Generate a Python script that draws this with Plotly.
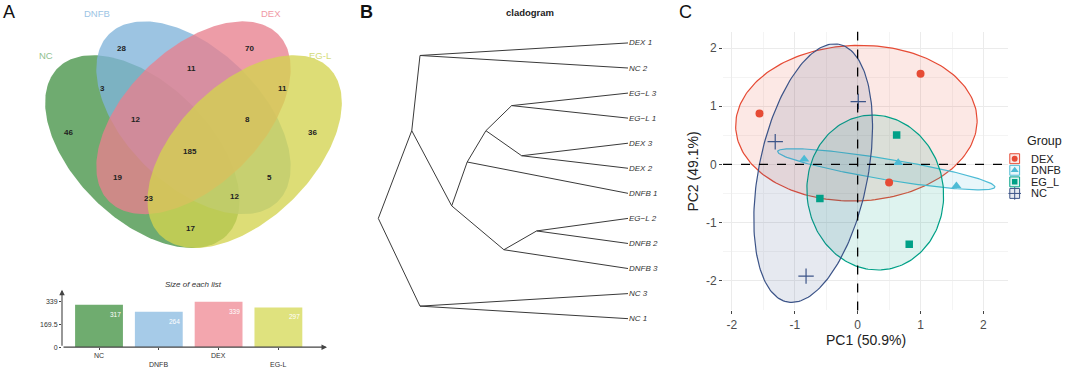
import numpy as np
import plotly.graph_objects as go

W, H = 1080, 370
FONT = "Liberation Sans, Arial, sans-serif"

# ---------------- Panel A data (Venn + list sizes) ----------------
venn_sets = ["NC", "DNFB", "DEX", "EG-L"]
region_members = [("NC",), ("DNFB",), ("DEX",), ("EG-L",),
                  ("NC", "DNFB"), ("DNFB", "DEX"), ("DEX", "EG-L"), ("NC", "EG-L"),
                  ("NC", "DEX"), ("DNFB", "EG-L"),
                  ("NC", "DNFB", "DEX"), ("DNFB", "DEX", "EG-L"), ("NC", "DEX", "EG-L"),
                  ("NC", "DNFB", "EG-L"), ("NC", "DNFB", "DEX", "EG-L")]
region_counts = [46, 28, 70, 36, 3, 11, 11, 17, 19, 5, 12, 8, 23, 12, 185]
list_sizes = [sum(c for m, c in zip(region_members, region_counts) if s in m) for s in venn_sets]
size_ticks = [0, 169.5, 339]
size_title = "Size of each list"

# ---------------- Panel B data (cladogram) ----------------
leaf_labels = ["DEX 1", "NC 2", "EG\u2212L 3", "EG\u2212L 1", "DEX 3", "DEX 2", "DNFB 1",
               "EG\u2212L 2", "DNFB 2", "DNFB 3", "NC 3", "NC 1"]
merge_left = [-1, -3, -5, 2, 4, -8, 6, 5, 1, -11, 9]
merge_right = [-2, -4, -6, 3, -7, -9, -10, 7, 8, -12, 10]
merge_height = [8.33, 4.66, 4.26, 5.69, 6.44, 3.66, 4.97, 7.06, 8.66, 8.33, 10.0]

# ---------------- Panel C data (PCA) ----------------
pca_groups = ["DEX", "DNFB", "EG_L", "NC"]
dex_pc1 = [-1.56, 1.00, 0.50]
dex_pc2 = [0.875, 1.56, -0.31]
dnfb_pc1 = [-0.85, 0.645, 1.57]
dnfb_pc2 = [0.09, 0.03, -0.37]
egl_pc1 = [0.62, -0.60, 0.82]
egl_pc2 = [0.505, -0.585, -1.37]
nc_pc1 = [-1.31, 0.01, -0.82]
nc_pc2 = [0.39, 1.08, -1.92]
pc1_label = "PC1 (50.9%)"
pc2_label = "PC2 (49.1%)"
pca_ticks = [-2, -1, 0, 1, 2]

# ---------------- helpers ----------------
def xdom(p0, p1):
    return [p0 / W, p1 / W]

def ydom(top, bottom):
    return [1 - bottom / H, 1 - top / H]

def paper_text(px, py, text, size, color="#222", angle=0):
    return dict(x=px / W, y=1 - py / H, xref="paper", yref="paper", text=text, showarrow=False,
                xanchor="center", yanchor="middle", textangle=angle,
                font=dict(size=size, color=color, family=FONT))

fig = go.Figure()
annotations = []
shapes = []

# ================= Panel A : Venn =================
VS = 341.0
def vu(px):
    return 0.5 + (px - 193.5) / VS
def vv(py):
    return 0.185 + (250 - py) / VS

venn_geom = {  # centre x, centre y, a, b, rotation (deg)
    "NC": (0.35, 0.47, 0.35, 0.20, -45),
    "DNFB": (0.50, 0.57, 0.35, 0.20, -45),
    "DEX": (0.50, 0.57, 0.35, 0.20, 45),
    "EG-L": (0.65, 0.47, 0.35, 0.20, 45),
}
venn_fill = {"NC": (70, 148, 72), "DNFB": (128, 180, 218), "DEX": (232, 128, 142), "EG-L": (212, 212, 80)}
venn_alpha = 0.78
venn_label_col = {"NC": "#8fbf8f", "DNFB": "#9cc4e4", "DEX": "#f09aa5", "EG-L": "#d4dc78"}
venn_label_pos = {"NC": (0.067, 0.754), "DNFB": (0.218, 0.877), "DEX": (0.728, 0.877), "EG-L": (0.872, 0.754)}
region_pos = [(0.132, 0.525), (0.290, 0.774), (0.663, 0.774), (0.850, 0.525),
              (0.232, 0.657), (0.493, 0.716), (0.760, 0.657), (0.490, 0.244),
              (0.276, 0.393), (0.724, 0.393),
              (0.331, 0.566), (0.657, 0.566), (0.367, 0.332), (0.619, 0.337), (0.490, 0.469)]

t = np.linspace(0, 2 * np.pi, 240)
for s in venn_sets:
    cx, cy, a, b, rot = venn_geom[s]
    th = np.deg2rad(rot)
    ex = cx + a * np.cos(t) * np.cos(th) - b * np.sin(t) * np.sin(th)
    ey = cy + a * np.cos(t) * np.sin(th) + b * np.sin(t) * np.cos(th)
    r, g, bb = venn_fill[s]
    fig.add_trace(go.Scatter(x=ex, y=ey, mode="lines", fill="toself",
                             fillcolor=f"rgba({r},{g},{bb},{venn_alpha})",
                             line=dict(width=0, color="rgba(0,0,0,0)"),
                             hoverinfo="skip", xaxis="x", yaxis="y"))
    lx, ly = venn_label_pos[s]
    annotations.append(dict(x=lx, y=ly, xref="x", yref="y", text=s, showarrow=False,
                            xanchor="center", yanchor="middle",
                            font=dict(size=9.5, color=venn_label_col[s], family=FONT)))

for (px_, py_), c in zip(region_pos, region_counts):
    annotations.append(dict(x=px_, y=py_, xref="x", yref="y", text=f"<b>{c}</b>", showarrow=False,
                            xanchor="center", yanchor="middle",
                            font=dict(size=8, color="#222222", family=FONT)))

# ================= Panel A : bar chart =================
bar_cols = ["#6fac6f", "#a6cbe8", "#f3a6ae", "#dfe27e"]
bx = list(range(len(venn_sets)))
fig.add_trace(go.Bar(x=bx, y=list_sizes, width=0.8, marker=dict(color=bar_cols, line=dict(width=0)),
                     xaxis="x2", yaxis="y2", hoverinfo="skip"))
BX0, BX1 = -0.619, 3.813
BY1 = 430
annotations.append(dict(x=BX1, y=0, ax=BX0, ay=0, xref="x2", yref="y2", axref="x2", ayref="y2",
                        text="", showarrow=True, arrowhead=2, arrowsize=1, arrowwidth=1.1, arrowcolor="#444"))
annotations.append(dict(x=BX0, y=BY1, ax=BX0, ay=0, xref="x2", yref="y2", axref="x2", ayref="y2",
                        text="", showarrow=True, arrowhead=2, arrowsize=1, arrowwidth=1.1, arrowcolor="#444"))
for i, (s, v) in enumerate(zip(venn_sets, list_sizes)):
    annotations.append(dict(x=i, y=0, xref="x2", yref="y2", text=s, showarrow=False, yanchor="top",
                            xanchor="center", yshift=-3 - 9 * (i % 2),
                            font=dict(size=7, color="#333", family=FONT)))
    annotations.append(dict(x=i + 0.27, y=v, xref="x2", yref="y2", text=str(v), showarrow=False,
                            xanchor="center", yanchor="top", yshift=-4,
                            font=dict(size=6.5, color="white", family=FONT)))
annotations.append(paper_text(193, 287, f"<i>{size_title}</i>", 8, "#333"))

# ================= Panel B : cladogram =================
n_leaf = len(leaf_labels)
node_y, node_h = {}, {}
def nkey(v):
    return ("L", -v - 1) if v < 0 else ("N", v - 1)
for i in range(n_leaf):
    node_y[("L", i)] = float(i)
    node_h[("L", i)] = 0.0
for k, (l, r, h) in enumerate(zip(merge_left, merge_right, merge_height)):
    node_y[("N", k)] = (node_y[nkey(l)] + node_y[nkey(r)]) / 2
    node_h[("N", k)] = h
lx_, ly_ = [], []
for k, (l, r) in enumerate(zip(merge_left, merge_right)):
    for c in (l, r):
        lx_ += [node_h[("N", k)], node_h[nkey(c)], None]
        ly_ += [node_y[("N", k)], node_y[nkey(c)], None]
fig.add_trace(go.Scatter(x=lx_, y=ly_, mode="lines", line=dict(color="#3a3a3a", width=1),
                         xaxis="x3", yaxis="y3", hoverinfo="skip"))
for i, lab in enumerate(leaf_labels):
    annotations.append(dict(x=0, y=i, xref="x3", yref="y3", text=f"<i>{lab}</i>", showarrow=False,
                            xanchor="left", yanchor="middle", xshift=-1,
                            font=dict(size=8, color="#333", family=FONT)))
annotations.append(paper_text(530, 13, "<b>cladogram</b>", 9.5, "#222"))
CPX = 24.97  # px per height unit
CLX0, CLX1 = 370, 680
clad_xr = [(628 - CLX0) / CPX, (628 - CLX1) / CPX]
CPY = 25.27
clad_yr = [(370 - 43.3) / CPY, (0 - 43.3) / CPY]

# ================= Panel C : PCA =================
pca_cols = {"DEX": "#E64B35", "DNFB": "#4DBBD5", "EG_L": "#00A087", "NC": "#3C5488"}
pca_rgb = {"DEX": (230, 75, 53), "DNFB": (77, 187, 213), "EG_L": (0, 160, 135), "NC": (60, 84, 136)}
pca_sym = {"DEX": "circle", "DNFB": "triangle-up", "EG_L": "square", "NC": "cross-thin"}
pca_size = {"DEX": 8, "DNFB": 9, "EG_L": 7.5, "NC": 11}
pca_data = {"DEX": (dex_pc1, dex_pc2), "DNFB": (dnfb_pc1, dnfb_pc2),
            "EG_L": (egl_pc1, egl_pc2), "NC": (nc_pc1, nc_pc2)}

def data_ellipse(x, y, r=np.sqrt(2), n=200):
    x = np.asarray(x, float)
    y = np.asarray(y, float)
    cov = np.cov(x, y)
    vals, vecs = np.linalg.eigh(cov)
    tt = np.linspace(0, 2 * np.pi, n)
    circ = np.vstack([np.cos(tt), np.sin(tt)])
    pts = vecs @ (np.sqrt(np.maximum(vals, 0))[:, None] * circ) * r
    return x.mean() + pts[0], y.mean() + pts[1]

for gname in pca_groups:
    ex, ey = data_ellipse(*pca_data[gname])
    r, g, b = pca_rgb[gname]
    fig.add_trace(go.Scatter(x=ex, y=ey, mode="lines", fill="toself", fillcolor=f"rgba({r},{g},{b},0.13)",
                             line=dict(color=pca_cols[gname], width=1.2), xaxis="x4", yaxis="y4",
                             hoverinfo="skip"))
shapes.append(dict(type="line", xref="x4", yref="y4 domain", x0=0, x1=0, y0=0, y1=1,
                   line=dict(color="black", width=1.3, dash="dash")))
shapes.append(dict(type="line", xref="x4 domain", yref="y4", x0=0, x1=1, y0=0, y1=0,
                   line=dict(color="black", width=1.3, dash="dash")))
for gname in pca_groups:
    px_, py_ = pca_data[gname]
    mk = dict(symbol=pca_sym[gname], size=pca_size[gname], color=pca_cols[gname])
    if gname == "NC":
        mk["line"] = dict(color=pca_cols[gname], width=1.2)
    fig.add_trace(go.Scatter(x=px_, y=py_, mode="markers", marker=mk, xaxis="x4", yaxis="y4",
                             hoverinfo="skip"))

annotations.append(paper_text(865.5, 343, pc1_label, 14, "#222"))
annotations.append(paper_text(693, 173, pc2_label, 14, "#222", angle=-90))

# legend (manual, ggplot-like key boxes)
annotations.append(dict(x=1025, y=141.7, xref="x5", yref="y5", text="Group", showarrow=False,
                        xanchor="left", yanchor="middle", font=dict(size=12.5, color="#222", family=FONT)))
leg_size = {"DEX": 6, "DNFB": 7, "EG_L": 5.5, "NC": 9}
for i, gname in enumerate(pca_groups):
    yc = 160 + i * 11.67
    r, g, b = pca_rgb[gname]
    shapes.append(dict(type="rect", xref="x5", yref="y5", x0=1009.8, x1=1019.6, y0=yc - 5, y1=yc + 5,
                       fillcolor=f"rgba({r},{g},{b},0.13)", line=dict(color=pca_cols[gname], width=1)))
    mk = dict(symbol=pca_sym[gname], size=leg_size[gname], color=pca_cols[gname])
    if gname == "NC":
        mk["line"] = dict(color=pca_cols[gname], width=1)
    fig.add_trace(go.Scatter(x=[1014.7], y=[yc], mode="markers", marker=mk, xaxis="x5", yaxis="y5",
                             hoverinfo="skip"))
    annotations.append(dict(x=1029, y=yc, xref="x5", yref="y5", text=gname, showarrow=False,
                            xanchor="left", yanchor="middle", font=dict(size=11, color="#222", family=FONT)))

# panel letters
for letter, px_, bold in [("A", 9, False), ("B", 366, True), ("C", 685, False)]:
    annotations.append(paper_text(px_, 12, f"<b>{letter}</b>" if bold else letter, 18, "#111"))

hidden = dict(visible=False, showgrid=False, zeroline=False, fixedrange=True)

fig.update_layout(
    width=W, height=H, margin=dict(l=0, r=0, t=0, b=0),
    paper_bgcolor="white", plot_bgcolor="rgba(0,0,0,0)", showlegend=False,
    font=dict(family=FONT),
    xaxis=dict(hidden, domain=xdom(0, 360), range=[vu(0), vu(360)], anchor="y"),
    yaxis=dict(hidden, domain=ydom(0, 262), range=[vv(262), vv(0)], anchor="x"),
    xaxis2=dict(domain=xdom(62, 327), range=[BX0, BX1], anchor="y2", showgrid=False, zeroline=False,
                showline=False, showticklabels=False, tickvals=bx, ticks="outside", ticklen=2,
                tickcolor="#444"),
    yaxis2=dict(domain=ydom(292, 350), range=[0, BY1], anchor="x2", showgrid=False, zeroline=False,
                showline=False, tickvals=size_ticks, ticktext=[str(v) for v in size_ticks],
                ticks="outside", ticklen=2, tickcolor="#444",
                tickfont=dict(size=7, color="#333", family=FONT)),
    xaxis3=dict(hidden, domain=xdom(CLX0, CLX1), range=clad_xr, anchor="y3"),
    yaxis3=dict(hidden, domain=ydom(0, 370), range=clad_yr, anchor="x3"),
    xaxis4=dict(domain=xdom(723, 1008), range=[-2.14, 2.39], anchor="y4", tickvals=pca_ticks,
                ticktext=[str(v) for v in pca_ticks], ticks="outside", ticklen=3, tickcolor="#444",
                tickfont=dict(size=12, color="#4D4D4D", family=FONT), showgrid=True,
                gridcolor="#EBEBEB", gridwidth=1, zeroline=False, showline=False,
                minor=dict(tickvals=[-1.5, -0.5, 0.5, 1.5], showgrid=True, gridcolor="#F4F4F4",
                           gridwidth=0.6, ticks="")),
    yaxis4=dict(domain=ydom(32, 313), range=[-2.51, 2.28], anchor="x4", tickvals=pca_ticks,
                ticktext=[str(v) for v in pca_ticks], ticks="outside", ticklen=3, tickcolor="#444",
                tickfont=dict(size=12, color="#4D4D4D", family=FONT), showgrid=True,
                gridcolor="#EBEBEB", gridwidth=1, zeroline=False, showline=False,
                minor=dict(tickvals=[-1.5, -0.5, 0.5, 1.5], showgrid=True, gridcolor="#F4F4F4",
                           gridwidth=0.6, ticks="")),
    xaxis5=dict(hidden, domain=xdom(1000, 1080), range=[1000, 1080], anchor="y5"),
    yaxis5=dict(hidden, domain=ydom(130, 210), range=[210, 130], anchor="x5"),
    annotations=annotations, shapes=shapes,
)

fig.write_html("out.html")
